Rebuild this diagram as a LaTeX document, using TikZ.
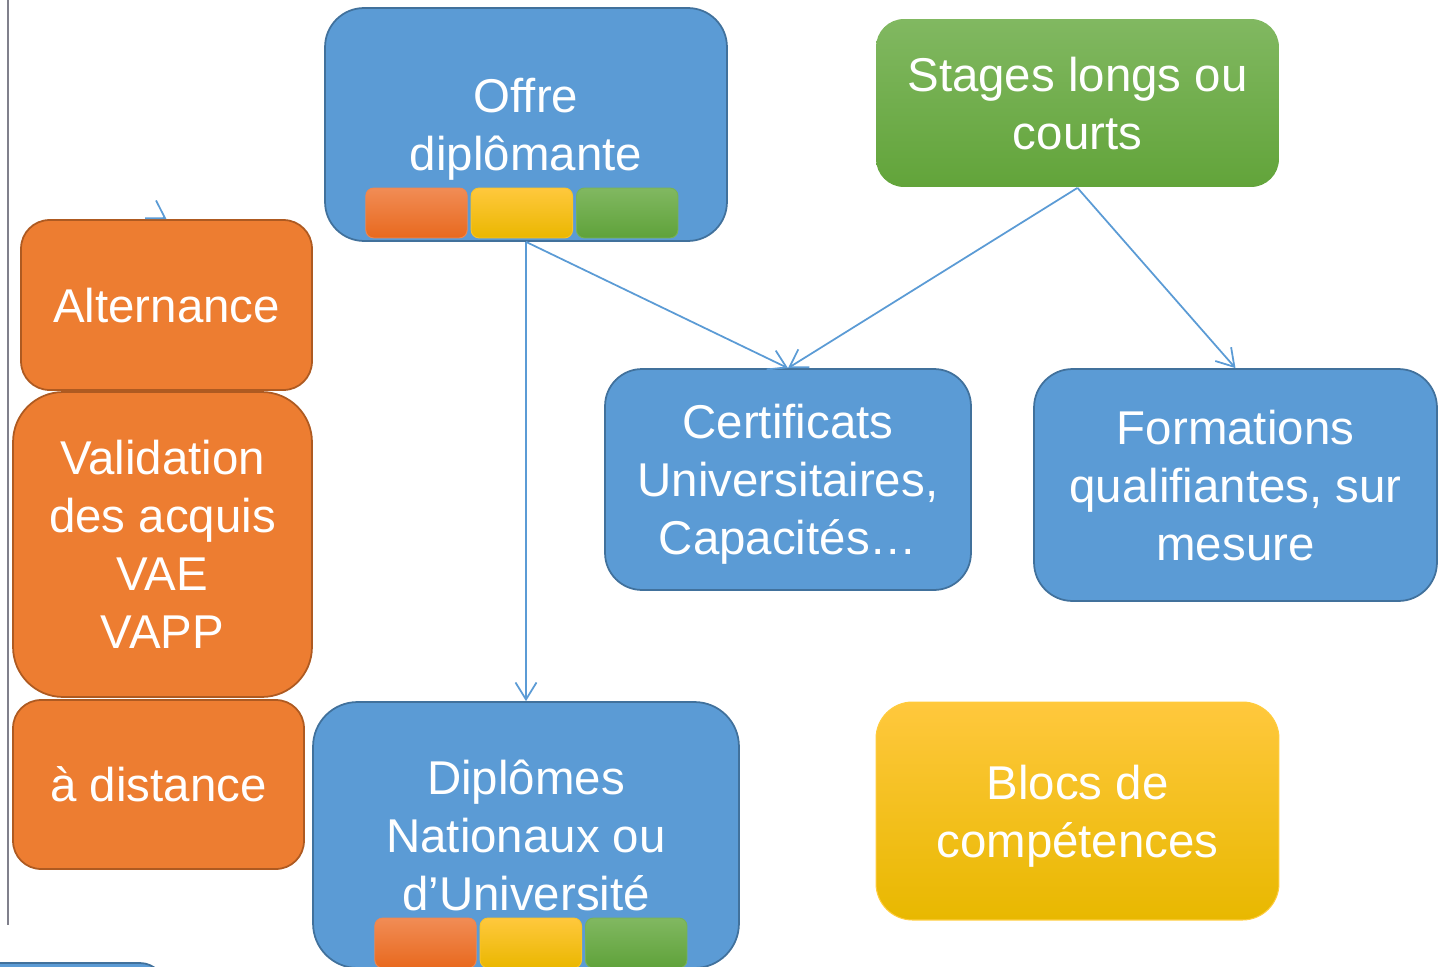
\documentclass[tikz,border=0pt]{standalone}
\usepackage{fontspec}
\setmainfont{Liberation Sans}
\usetikzlibrary{arrows.meta,positioning}
\definecolor{bleu}{HTML}{5B9BD5}
\definecolor{bleufonce}{HTML}{41719C}
\definecolor{orange}{HTML}{ED7D31}
\definecolor{orangefonce}{HTML}{AE5A21}
\tikzset{bloc/.style={
    % The shape:
    rectangle,
    inner sep=0pt,
    % The border:
    line width=1pt,
    % Font
    text=white,
    font=\fontsize{27}{33}\selectfont,
    align=center,
    text depth=-2pt
    },
    blocbleu/.style={
    bloc,
    fill=bleu,
    draw=bleufonce,
    },
    blocorange/.style={
    bloc,
    fill=orange,
    draw=orangefonce,
    },
    blocvert/.style={
    bloc,
    top color={rgb,255:red,129;green,184;blue,97},
    bottom color={rgb,255:red,98;green,164;blue,58},
    },
    blocjaune/.style={
    bloc,
    top color={rgb,255:red,255;green,200;blue,61},
    middle color={rgb,255:red,255;green,192;blue,0},
    bottom color={rgb,255:red,232;green,184;blue,0},
    draw={rgb,255:red,255;green,204;blue,60},
    line width=0.6pt,
    },
    pastille/.style={
    rectangle,
    inner sep=0pt,
    minimum width=2.03cm,
    minimum height=1cm,
    rounded corners=0.16cm,
    line width=0.5pt,
    },
    pastorange/.style={
    pastille,
    top color={rgb,255:red,241;green,140;blue,85},
    bottom color={rgb,255:red,232;green,105;blue,30},
    draw={rgb,255:red,240;green,135;blue,80},
    },
    pastjaune/.style={
    pastille,
    top color={rgb,255:red,255;green,200;blue,61},
    bottom color={rgb,255:red,234;green,183;blue,0},
    draw={rgb,255:red,250;green,195;blue,40},
    },
    pastvert/.style={
    pastille,
    top color={rgb,255:red,129;green,184;blue,97},
    bottom color={rgb,255:red,95;green,162;blue,58},
    draw={rgb,255:red,120;green,178;blue,85},
    },
    fleche/.style={
    -{Straight Barb[length=3.4mm,width=4.2mm]},
    line width=1pt,
    draw=bleu,
    },
}

\begin{document}
\begin{tikzpicture}[x=0.02cm, y=-0.02cm, node distance = 0mm and 0.06cm]
    \useasboundingbox (0,0) rectangle (1441,967);
    \draw[line width=1pt, color={rgb,255:red,128;green,128;blue,140}] (8,0) -- (8,925);

    \node (offre)       [blocbleu,minimum width=8.04cm,minimum height=4.66cm,rounded corners=0.78cm] at (526,124.5)  {Offre\\diplômante};
    \node (stages)      [blocvert,minimum width=8.06cm,minimum height=3.36cm,rounded corners=0.56cm] at (1077.5,103) {Stages longs ou\\courts};
    \node (alternance)  [blocorange,minimum width=5.82cm,minimum height=3.4cm,rounded corners=0.57cm] at (166.5,305)  {Alternance};
    \node (vae)         [blocorange,minimum width=5.98cm,minimum height=6.1cm,rounded corners=1cm]    at (162.5,544.5) {Validation\\des acquis\\VAE\\VAPP};
    \node (distance)    [blocorange,minimum width=5.82cm,minimum height=3.38cm,rounded corners=0.56cm] at (158.5,784.5) {à distance};
    \node (certificats) [blocbleu,minimum width=7.32cm,minimum height=4.42cm,rounded corners=0.74cm] at (788,479.5)   {Certificats\\Universitaires,\\Capacités…};
    \node (formations)  [blocbleu,minimum width=8.06cm,minimum height=4.64cm,rounded corners=0.77cm] at (1235.5,485)  {Formations\\qualifiantes, sur\\mesure};
    \node (diplomes)    [blocbleu,minimum width=8.52cm,minimum height=5.32cm,rounded corners=0.89cm] at (526,835)     {Diplômes\\Nationaux ou\\d’Université};
    \node (blocs)       [blocjaune,minimum width=8.06cm,minimum height=4.36cm,rounded corners=0.73cm] at (1077.5,811) {Blocs de\\compétences};
    \node (coupe)       [blocbleu,minimum width=5.3cm,minimum height=2cm,rounded corners=0.5cm]      at (32.5,1013)  {};

    \node (offreo)  [pastorange] at (416.5,213) {};
    \node (offrej)  [pastjaune,right=of offreo] {};
    \node (offrev)  [pastvert,right=of offrej]  {};

    \node (diplo)   [pastorange] at (425.5,943) {};
    \node (diplj)   [pastjaune,right=of diplo] {};
    \node (diplv)   [pastvert,right=of diplj]  {};

    \coordinate (pointe) at (163,217);
    \draw[fleche] (pointe) -- (alternance.north);
    \draw[fleche] (offre.south) -- (diplomes.north);
    \draw[fleche] (offre.south) -- (certificats.north);
    \draw[fleche] (stages.south) -- (certificats.north);
    \draw[fleche] (stages.south) -- (formations.north);
\end{tikzpicture}
\end{document}
